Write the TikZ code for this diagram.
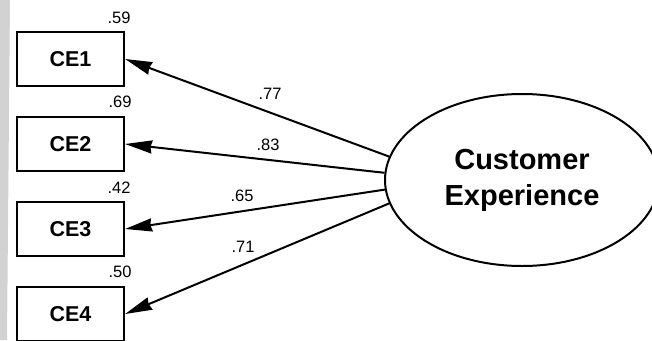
\documentclass[tikz,border=0pt]{standalone}
\usepackage{fontspec}
\setmainfont{Liberation Sans}
\usetikzlibrary{shapes.geometric,arrows.meta}
\begin{document}
\begin{tikzpicture}[x=1pt,y=-1pt,
  indicator/.style={draw, line width=2.2pt, minimum width=107pt, minimum height=54pt,
    inner sep=0pt, font=\fontsize{21.5}{24}\selectfont\bfseries},
  latent/.style={draw, ellipse, line width=2pt, minimum width=274pt, minimum height=172pt,
    inner sep=0pt, align=center, font=\fontsize{29}{36}\selectfont\bfseries},
  coef/.style={inner sep=0pt, font=\fontsize{16.5}{18}\selectfont},
  loading/.style={line width=2pt, -{Stealth[length=27pt,width=13pt,inset=1.5pt]}}
]
\useasboundingbox (0,0) rectangle (652,340);
\clip (0,0) rectangle (652,340);
\fill[white] (0,0) rectangle (652,340);
% grey margin strip on the left
\fill[gray!35] (0,0) -- (10,0) -- (7,340) -- (0,340) -- cycle;

% observed indicators
\node[indicator] (ce1) at (70.5,59)  {CE1};
\node[indicator] (ce2) at (70.5,144) {CE2};
\node[indicator] (ce3) at (70.5,229) {CE3};
\node[indicator] (ce4) at (70.5,314) {CE4};

% squared multiple correlations
\node[coef] (r1) at (119,18)  {.59};
\node[coef] (r2) at (120,102) {.69};
\node[coef] (r3) at (119,188) {.42};
\node[coef] (r4) at (120,272) {.50};

% latent factor
\node[latent] (cx) at (522,180) {Customer\\Experience};

% factor loadings
\draw[loading] (cx.170) -- (ce1.east);
\draw[loading] (cx.177) -- (ce2.east);
\draw[loading] (cx.184) -- (ce3.east);
\draw[loading] (cx.190.5) -- (ce4.east);

\node[coef] (w1) at (270,94)  {.77};
\node[coef] (w2) at (268,145) {.83};
\node[coef] (w3) at (242,196) {.65};
\node[coef] (w4) at (243,247) {.71};
\end{tikzpicture}
\end{document}
